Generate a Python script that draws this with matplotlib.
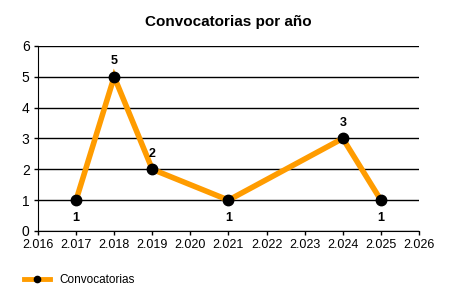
import matplotlib
matplotlib.use("Agg")
import matplotlib.pyplot as plt
from matplotlib.ticker import FuncFormatter, MultipleLocator

years = [2017, 2018, 2019, 2021, 2024, 2025]
counts = [1, 5, 2, 1, 3, 1]
label_above = [False, True, True, False, True, False]

plt.rcParams['font.family'] = ['Liberation Sans', 'DejaVu Sans']

fig = plt.figure(figsize=(4.5, 3), dpi=100)
ax = fig.add_axes([0.0844, 0.23, 0.8467, 0.617])

ax.plot(years, counts, color='#FF9C00', linewidth=4, marker='o',
        markersize=7.5, markerfacecolor='black', markeredgecolor='black',
        label='Convocatorias', solid_joinstyle='miter', zorder=3)

for x, y, up in zip(years, counts, label_above):
    off = 11 if up else -13
    ax.annotate(str(y), (x, y), xytext=(0, off), textcoords='offset points',
                ha='center', va='center', fontsize=9, fontweight='bold')

ax.set_xlim(2016, 2026)
ax.set_ylim(0, 6)
ax.xaxis.set_major_locator(MultipleLocator(1))
ax.yaxis.set_major_locator(MultipleLocator(1))
ax.xaxis.set_major_formatter(FuncFormatter(lambda v, p: f"{int(v) // 1000}.{int(v) % 1000:03d}"))
ax.grid(axis='y', color='black', linewidth=1)
ax.set_axisbelow(True)
for s in ['top', 'right']:
    ax.spines[s].set_visible(False)
ax.tick_params(labelsize=9, length=3, width=1, pad=3)
ax.tick_params(axis='y', labelsize=10)

ax.set_title('Convocatorias por año', fontsize=11, fontweight='bold', pad=14)

leg = fig.legend(handles=ax.get_lines(), loc='lower left', bbox_to_anchor=(0.03, 0.01),
                 frameon=False, fontsize=8.5, handlelength=2.2, markerscale=0.6)
for h in leg.legend_handles:
    h.set_linewidth(3.5)

fig.savefig('out.png', dpi=100)
